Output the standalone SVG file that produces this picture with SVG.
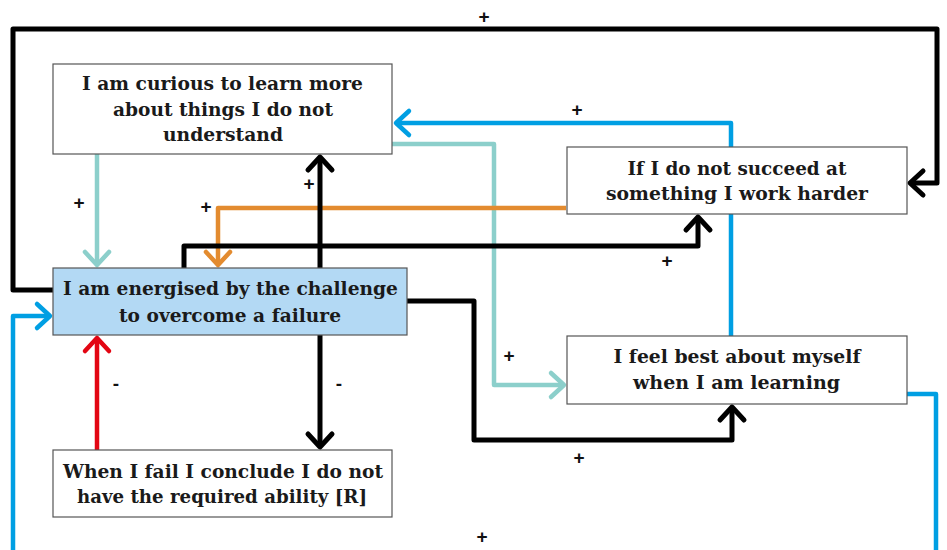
<svg xmlns="http://www.w3.org/2000/svg" width="947" height="550" viewBox="0 0 947 550">
<style>
.box{stroke:#555;stroke-width:1.2;fill:#fff}
.hl{fill:#b3d9f4}
.t{font-family:"DejaVu Serif","Liberation Serif",serif;font-weight:bold;font-size:19px;fill:#1a1a1a;text-anchor:middle}
.lbl{font-family:"Liberation Sans",Arial,sans-serif;font-weight:bold;font-size:19px;fill:#111;text-anchor:middle}
.c{fill:none;stroke-width:4.5;stroke-linejoin:round}
.k{stroke:#000;stroke-width:5}
.b{stroke:#009fe3}
.g{stroke:#8ccfcb}
.o{stroke:#e38b2f}
.r{stroke:#e30613}
</style>
<defs>
<marker id="mk" markerUnits="userSpaceOnUse" viewBox="-20 -20 26 40" markerWidth="26" markerHeight="40" refX="0" refY="0" orient="auto" overflow="visible"><path d="M-13,-12 L0,0 L-13,12" fill="none" stroke="#000" stroke-width="5" stroke-linecap="round" stroke-linejoin="round"/></marker>
<marker id="mb" markerUnits="userSpaceOnUse" viewBox="-20 -20 26 40" markerWidth="26" markerHeight="40" refX="0" refY="0" orient="auto" overflow="visible"><path d="M-13,-12 L0,0 L-13,12" fill="none" stroke="#009fe3" stroke-width="4.5" stroke-linecap="round" stroke-linejoin="round"/></marker>
<marker id="mg" markerUnits="userSpaceOnUse" viewBox="-20 -20 26 40" markerWidth="26" markerHeight="40" refX="0" refY="0" orient="auto" overflow="visible"><path d="M-13,-12 L0,0 L-13,12" fill="none" stroke="#8ccfcb" stroke-width="4.5" stroke-linecap="round" stroke-linejoin="round"/></marker>
<marker id="mo" markerUnits="userSpaceOnUse" viewBox="-20 -20 26 40" markerWidth="26" markerHeight="40" refX="0" refY="0" orient="auto" overflow="visible"><path d="M-13,-12 L0,0 L-13,12" fill="none" stroke="#e38b2f" stroke-width="4.5" stroke-linecap="round" stroke-linejoin="round"/></marker>
<marker id="mr" markerUnits="userSpaceOnUse" viewBox="-20 -20 26 40" markerWidth="26" markerHeight="40" refX="0" refY="0" orient="auto" overflow="visible"><path d="M-13,-12 L0,0 L-13,12" fill="none" stroke="#e30613" stroke-width="4.5" stroke-linecap="round" stroke-linejoin="round"/></marker>
</defs>
<rect width="947" height="550" fill="#fff"/>
<g id="connectors">
<path class="c k" d="M53,290 H13 V29 H937 V183 H910" marker-end="url(#mk)"/>
<path class="c b" d="M907,394 H936 V560"/>
<path class="c b" d="M13,560 V316 H50" marker-end="url(#mb)"/>
<path class="c b" d="M731,336 V123 H396" marker-end="url(#mb)"/>
<path class="c g" d="M392,144 H494 V385 H564" marker-end="url(#mg)"/>
<path class="c g" d="M97,154 V265" marker-end="url(#mg)"/>
<path class="c o" d="M566,208 H218 V265" marker-end="url(#mo)"/>
<path class="c k" d="M184,268 V246 H698 V217" marker-end="url(#mk)"/>
<path class="c k" d="M320,268 V157" marker-end="url(#mk)"/>
<path class="c k" d="M320,335 V447" marker-end="url(#mk)"/>
<path class="c r" d="M97,450 V338" marker-end="url(#mr)"/>
<path class="c k" d="M407,301 H474 V440 H732 V407" marker-end="url(#mk)"/>
<text class="lbl" x="484" y="23">+</text>
<text class="lbl" x="577" y="116">+</text>
<text class="lbl" x="79" y="209">+</text>
<text class="lbl" x="206" y="213">+</text>
<text class="lbl" x="309" y="190">+</text>
<text class="lbl" x="667" y="267">+</text>
<text class="lbl" x="509" y="362">+</text>
<text class="lbl" x="579" y="464">+</text>
<text class="lbl" x="482" y="543">+</text>
<text class="lbl" x="116" y="390">-</text>
<text class="lbl" x="339" y="390">-</text>
</g>
<g id="n-curious">
<rect class="box" x="53" y="64" width="339" height="90"/>
<text class="t" x="222.5" y="90" textLength="281" lengthAdjust="spacingAndGlyphs">I am curious to learn more</text>
<text class="t" x="223" y="115.5" textLength="220" lengthAdjust="spacingAndGlyphs">about things I do not</text>
<text class="t" x="223" y="141" textLength="120" lengthAdjust="spacingAndGlyphs">understand</text>
</g>
<g id="n-energised">
<rect class="box hl" x="53" y="268" width="354" height="67"/>
<text class="t" x="230.5" y="295" textLength="335" lengthAdjust="spacingAndGlyphs">I am energised by the challenge</text>
<text class="t" x="230" y="321.5" textLength="222" lengthAdjust="spacingAndGlyphs">to overcome a failure</text>
</g>
<g id="n-fail">
<rect class="box" x="53" y="450" width="339" height="67"/>
<text class="t" x="223" y="477.5" textLength="320" lengthAdjust="spacingAndGlyphs">When I fail I conclude I do not</text>
<text class="t" x="222" y="502.5" textLength="290" lengthAdjust="spacingAndGlyphs">have the required ability [R]</text>
</g>
<g id="n-harder">
<rect class="box" x="567" y="147" width="340" height="67"/>
<text class="t" x="737" y="175" textLength="219" lengthAdjust="spacingAndGlyphs">If I do not succeed at</text>
<text class="t" x="737" y="200" textLength="262" lengthAdjust="spacingAndGlyphs">something I work harder</text>
</g>
<g id="n-best">
<rect class="box" x="567" y="336" width="340" height="68"/>
<text class="t" x="737" y="363" textLength="247" lengthAdjust="spacingAndGlyphs">I feel best about myself</text>
<text class="t" x="736.5" y="389" textLength="207" lengthAdjust="spacingAndGlyphs">when I am learning</text>
</g>
</svg>
